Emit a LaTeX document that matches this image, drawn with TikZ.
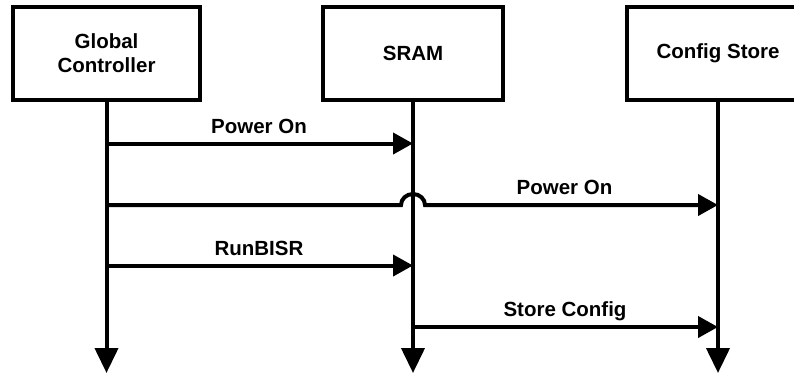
\documentclass[tikz,border=0pt]{standalone}
\usepackage{fontspec}
\setmainfont{Liberation Sans}
\usetikzlibrary{arrows.meta}
\begin{document}
\begin{tikzpicture}[x=1pt,y=-1pt,
  every node/.style={font=\fontsize{20.5}{23.5}\selectfont\bfseries},
  actor/.style={draw,line width=3.8pt,minimum height=93pt,inner sep=0pt,align=center,anchor=north},
  lifeline/.style={line width=4pt,-{Triangle[length=25pt,width=23pt]}},
  msg/.style={line width=4pt,-{Triangle[length=20pt,width=21pt]}},
  msglabel/.style={anchor=base,inner sep=0pt}]
\useasboundingbox (0,0) rectangle (794,376);
\clip (0,0) rectangle (794,376);
% participants
\node[actor,minimum width=187pt] (gc) at (106.5,5) {Global\\Controller};
\node[actor,minimum width=180pt] (sram) at (413,5) {SRAM};
\node[actor,minimum width=182pt] (cfg) at (718,5) {Config Store};
% lifeline ends
\coordinate (gcEnd) at (106.5,373);
\coordinate (sramEnd) at (413,373);
\coordinate (cfgEnd) at (718,373);
\draw[lifeline] (gc.south) -- (gcEnd);
\draw[lifeline] (sram.south) -- (sramEnd);
\draw[lifeline] (cfg.south) -- (cfgEnd);
% message anchors on the lifelines
\coordinate (gcA) at (106.5,143.5);  \coordinate (sramA) at (413,143.5);
\coordinate (gcB) at (106.5,205);    \coordinate (cfgB) at (718,205);
\coordinate (jumpL) at (401,205);
\coordinate (gcC) at (106.5,265.5);  \coordinate (sramC) at (413,265.5);
\coordinate (sramD) at (413,327);    \coordinate (cfgD) at (718,327);
% messages
\draw[msg] (gcA) -- (sramA);
\node[msglabel] (l1) at (259,133) {Power On};
\draw[msg] (gcB) -- (jumpL) arc[start angle=180,end angle=360,x radius=12,y radius=11] -- (cfgB);
\node[msglabel] (l2) at (564.5,194) {Power On};
\draw[msg] (gcC) -- (sramC);
\node[msglabel] (l3) at (259,255) {RunBISR};
\draw[msg] (sramD) -- (cfgD);
\node[msglabel] (l4) at (565,316) {Store Config};
\end{tikzpicture}
\end{document}
